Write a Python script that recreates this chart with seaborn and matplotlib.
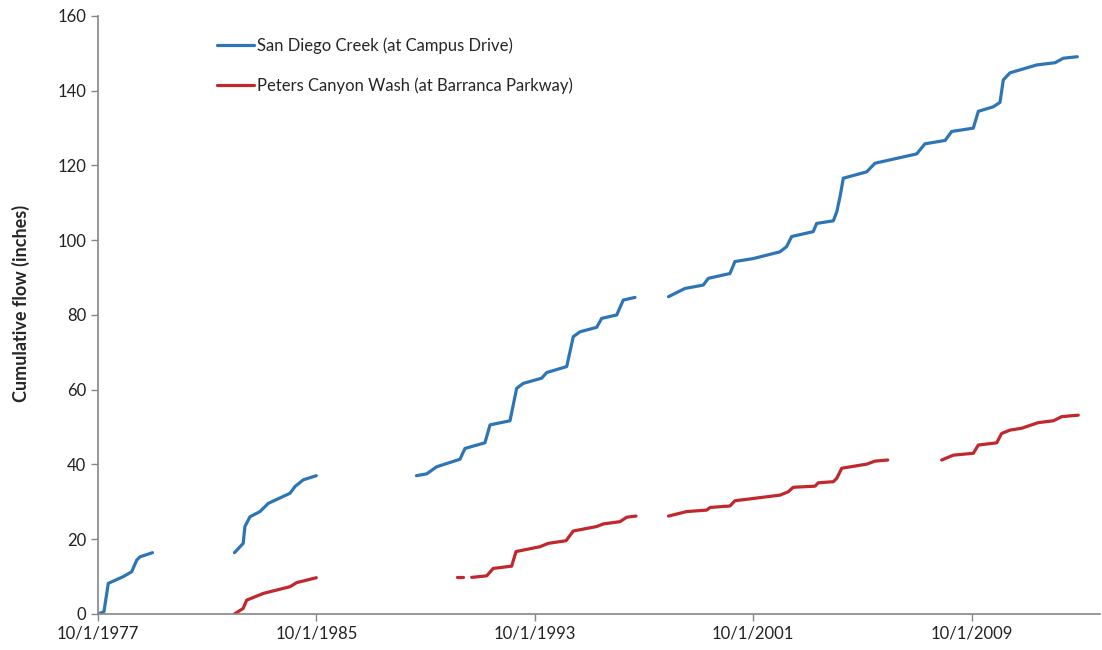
import pandas as pd
import numpy as np
import seaborn as sns
import matplotlib
matplotlib.use("Agg")
from matplotlib import pyplot as plt
import matplotlib.dates as mdates

# San Diego Creek (at Campus Drive), 4 record pieces
sd_dates = [
    # piece 1
    ["1977-10-01", "1977-12-20", "1978-02-16", "1978-04-02", "1978-09-05",
     "1978-12-26", "1979-03-03", "1979-04-16", "1979-09-30"],
    # piece 2
    ["1982-10-01", "1983-01-26", "1983-02-18", "1983-04-26", "1983-09-07",
     "1983-12-28", "1984-10-13", "1984-12-19", "1985-04-09", "1985-09-30"],
    # piece 3
    ["1989-06-01", "1989-10-16", "1990-02-27", "1991-01-04", "1991-03-12",
     "1991-12-04", "1992-02-10", "1992-11-03", "1993-02-01", "1993-04-30",
     "1994-01-02", "1994-03-09", "1994-12-02", "1995-02-28", "1995-05-28",
     "1996-01-07", "1996-03-14", "1996-10-01", "1996-12-28", "1997-06-03"],
    # piece 4
    ["1998-08-25", "1999-04-02", "1999-12-03", "2000-02-08", "2000-11-24",
     "2001-01-30", "2001-10-03", "2002-09-24", "2002-12-22", "2003-02-28",
     "2003-12-13", "2004-01-28", "2004-09-07", "2004-10-23", "2004-12-06",
     "2005-01-19", "2005-11-28", "2006-03-18", "2007-09-27", "2008-01-16",
     "2008-10-11", "2009-01-08", "2009-10-24", "2009-12-30", "2010-07-18",
     "2010-10-16", "2010-11-29", "2011-02-27", "2012-02-19", "2012-10-22",
     "2013-02-09", "2013-08-15"],
]
sd_flow = [
    [0.0, 0.6, 8.2, 8.6, 10.0, 11.3, 14.4, 15.3, 16.4],
    [16.4, 18.9, 23.4, 26.0, 27.4, 29.6, 32.3, 34.1, 35.9, 37.0],
    [37.0, 37.5, 39.4, 41.4, 44.3, 45.8, 50.6, 51.7, 60.4, 61.7,
     63.1, 64.6, 66.2, 74.2, 75.5, 76.7, 79.1, 80.0, 84.0, 84.7],
    [84.9, 87.1, 88.0, 89.8, 91.1, 94.3, 95.1, 96.9, 98.3, 101.0,
     102.3, 104.5, 105.2, 107.6, 111.7, 116.6, 118.3, 120.6, 123.1, 125.8,
     126.7, 129.1, 130.0, 134.5, 135.7, 136.9, 142.9, 144.8, 146.9, 147.5,
     148.7, 149.1],
]

# Peters Canyon Wash (at Barranca Parkway), 5 record pieces
pc_dates = [
    ["1982-10-01", "1983-01-26", "1983-03-13", "1983-10-21", "1984-10-13",
     "1985-01-11", "1985-09-30"],
    ["1990-12-01", "1991-02-14"],
    ["1991-06-10", "1991-12-27", "1992-03-25", "1992-11-25", "1993-01-23",
     "1993-12-09", "1994-03-30", "1994-11-23", "1995-02-28", "1996-01-07",
     "1996-04-05", "1996-11-14", "1997-02-12", "1997-06-16"],
    ["1998-08-25", "1999-04-24", "2000-01-18", "2000-03-03", "2000-11-24",
     "2001-01-30", "2002-09-24", "2003-01-13", "2003-03-20", "2004-01-06",
     "2004-02-19", "2004-09-07", "2004-10-23", "2004-12-29", "2005-11-28",
     "2006-03-18", "2006-09-05"],
    ["2008-08-27", "2009-01-30", "2009-10-24", "2009-12-30", "2010-09-02",
     "2010-11-07", "2011-02-27", "2011-08-02", "2012-03-11", "2012-09-29",
     "2013-01-19", "2013-08-28"],
]
pc_flow = [
    [0.0, 1.5, 3.7, 5.5, 7.3, 8.4, 9.7],
    [9.8, 9.8],
    [9.8, 10.2, 12.2, 12.8, 16.7, 18.0, 18.9, 19.6, 22.2, 23.4,
     24.1, 24.7, 25.9, 26.2],
    [26.2, 27.4, 27.8, 28.5, 28.9, 30.3, 31.8, 32.7, 33.9, 34.2,
     35.1, 35.4, 36.3, 39.0, 40.1, 40.9, 41.2],
    [41.2, 42.5, 43.0, 45.2, 45.8, 48.3, 49.2, 49.7, 51.2, 51.7,
     52.8, 53.2],
]

sd_name = "San Diego Creek (at Campus Drive)"
pc_name = "Peters Canyon Wash (at Barranca Parkway)"
tick_dates = ["1977-10-01", "1985-10-01", "1993-10-01", "2001-10-01", "2009-10-01"]

rows = []
for name, dd, ff in [(sd_name, sd_dates, sd_flow), (pc_name, pc_dates, pc_flow)]:
    for i, (d, f) in enumerate(zip(dd, ff)):
        for a, b in zip(d, f):
            rows.append({"date": pd.Timestamp(a), "flow": b, "station": name,
                         "piece": name[:3] + str(i)})
df = pd.DataFrame(rows)

sns.set_style("white")
plt.rcParams["font.family"] = ["Lato", "DejaVu Sans"]

fig = plt.figure(figsize=(11.02, 6.5), dpi=100)
ax = fig.add_axes([0.0889, 0.0554, 0.9093, 0.92])

sns.lineplot(data=df, x="date", y="flow", hue="station", units="piece",
             estimator=None, hue_order=[sd_name, pc_name],
             palette=["#2E75B6", "#C0282D"], linewidth=2.3, ax=ax)

ax.set_ylim(0, 160)
ax.set_yticks(range(0, 161, 20))
ax.set_xlim(pd.Timestamp("1977-10-01"), pd.Timestamp("2014-06-15"))
ax.set_xticks([pd.Timestamp(t) for t in tick_dates])
ax.xaxis.set_major_formatter(plt.FuncFormatter(
    lambda v, p: "{d.month}/{d.day}/{d.year}".format(d=mdates.num2date(v))))

ax.set_xlabel("")
ax.set_ylabel("Cumulative flow (inches)", fontsize=13, fontweight="bold")
ax.yaxis.set_label_coords(-0.068, 0.52)
ax.tick_params(axis="both", labelsize=12, colors="#222222", length=5,
               width=1, direction="out", bottom=True, left=True)
ax.tick_params(axis="both", color="#868686")
for s in ["top", "right"]:
    ax.spines[s].set_visible(False)
for s in ["left", "bottom"]:
    ax.spines[s].set_color("#868686")
    ax.spines[s].set_linewidth(1.2)

sns.move_legend(ax, "upper left", bbox_to_anchor=(0.104, 0.99), title=None,
                frameon=False, fontsize=12, handlelength=2.2,
                handletextpad=0.2, labelspacing=1.45)

fig.savefig("out.png", dpi=100)
